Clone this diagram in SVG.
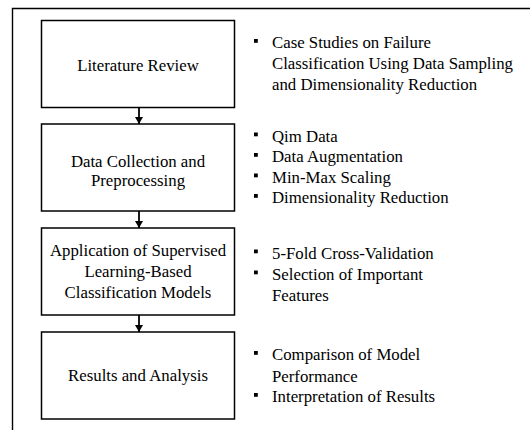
<svg xmlns="http://www.w3.org/2000/svg" width="530" height="430" viewBox="0 0 530 430">
  <style>
    .box { fill: #ffffff; stroke: #000000; stroke-width: 1.5; }
    .frame { fill: none; stroke: #000000; stroke-width: 1.4; }
    .label { font-family: "Liberation Serif", "Times New Roman", serif; font-size: 16.8px; fill: #000000; text-anchor: middle; }
    .item { font-family: "Liberation Serif", "Times New Roman", serif; font-size: 16.8px; fill: #000000; }
    .bullet { fill: #000000; }
    .conn { stroke: #000000; stroke-width: 1.8; fill: none; }
  </style>
  <defs>
    <marker id="arrow" viewBox="0 0 7 8" refX="7" refY="4" markerWidth="7" markerHeight="8" markerUnits="userSpaceOnUse" orient="auto">
      <path d="M0,0 L7,4 L0,8 Z" fill="#000000"/>
    </marker>
  </defs>

  <rect width="530" height="430" fill="#ffffff"/>

  <!-- outer frame: top and left edges -->
  <path class="frame" d="M12.5,430 V8.5 H530"/>

  <!-- connectors between steps -->
  <g id="connectors">
    <line class="conn" x1="139" y1="108" x2="139" y2="124" marker-end="url(#arrow)"/>
    <line class="conn" x1="139" y1="211" x2="139" y2="228" marker-end="url(#arrow)"/>
    <line class="conn" x1="139" y1="315" x2="139" y2="332" marker-end="url(#arrow)"/>
  </g>

  <g id="step1">
    <rect class="box" x="41.5" y="20.5" width="193" height="87"/>
    <text class="label" x="138" y="70.5">Literature Review</text>
    <rect class="bullet" x="254" y="39" width="3.8" height="3.8"/>
    <text class="item" x="272" y="48.3">Case Studies on Failure</text>
    <text class="item" x="272" y="69">Classification Using Data Sampling</text>
    <text class="item" x="272" y="89.5">and Dimensionality Reduction</text>
  </g>

  <g id="step2">
    <rect class="box" x="41.5" y="124" width="193" height="87"/>
    <text class="label" x="138" y="166.5">Data Collection and</text>
    <text class="label" x="138" y="185.5">Preprocessing</text>
    <rect class="bullet" x="254" y="132.5" width="3.8" height="3.8"/>
    <text class="item" x="272" y="141.7">Qim Data</text>
    <rect class="bullet" x="254" y="153" width="3.8" height="3.8"/>
    <text class="item" x="272" y="162.3">Data Augmentation</text>
    <rect class="bullet" x="254" y="173.5" width="3.8" height="3.8"/>
    <text class="item" x="272" y="182.8">Min-Max Scaling</text>
    <rect class="bullet" x="254" y="194" width="3.8" height="3.8"/>
    <text class="item" x="272" y="203.3">Dimensionality Reduction</text>
  </g>

  <g id="step3">
    <rect class="box" x="41.5" y="228" width="193" height="87"/>
    <text class="label" x="138" y="256">Application of Supervised</text>
    <text class="label" x="138" y="276.7">Learning-Based</text>
    <text class="label" x="138" y="297.5">Classification Models</text>
    <rect class="bullet" x="254" y="249.5" width="3.8" height="3.8"/>
    <text class="item" x="272" y="259">5-Fold Cross-Validation</text>
    <rect class="bullet" x="254" y="270.5" width="3.8" height="3.8"/>
    <text class="item" x="272" y="280">Selection of Important</text>
    <text class="item" x="272" y="301">Features</text>
  </g>

  <g id="step4">
    <rect class="box" x="41.5" y="332" width="193" height="87"/>
    <text class="label" x="138" y="381">Results and Analysis</text>
    <rect class="bullet" x="254" y="351" width="3.8" height="3.8"/>
    <text class="item" x="272" y="360.3">Comparison of Model</text>
    <text class="item" x="272" y="381.5">Performance</text>
    <rect class="bullet" x="254" y="393" width="3.8" height="3.8"/>
    <text class="item" x="272" y="402.3">Interpretation of Results</text>
  </g>
</svg>
